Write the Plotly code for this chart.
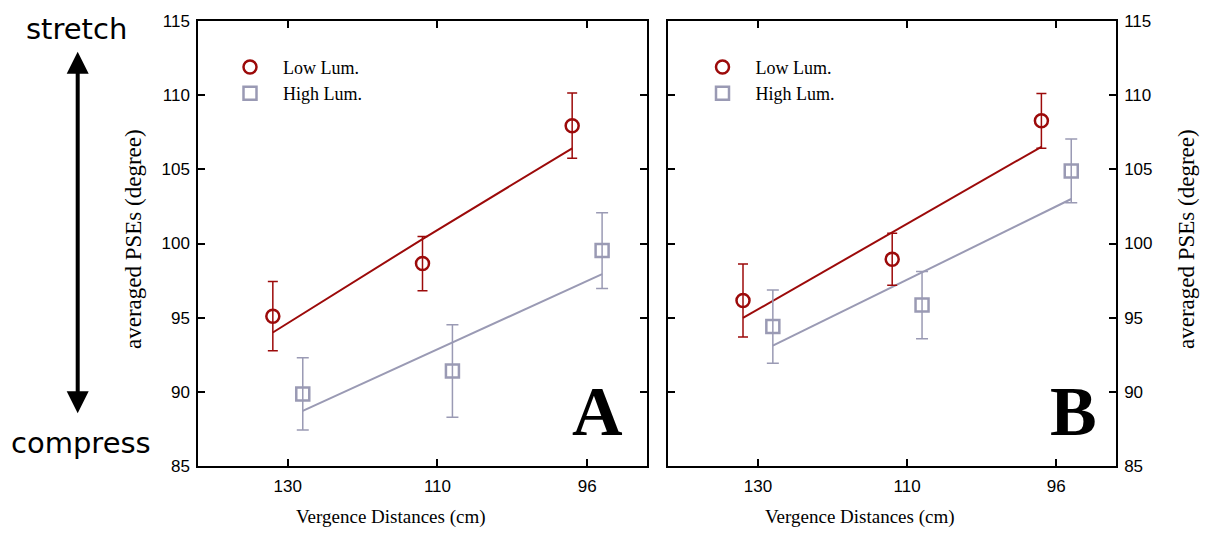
import plotly.graph_objects as go

# ---------------- data ----------------
distances = ["130", "110", "96"]

a_low = [95.1, 98.65, 107.94]
a_low_err = [2.33, 1.83, 2.2]
a_high = [89.86, 91.4, 99.52]
a_high_err = [2.43, 3.12, 2.56]
a_low_fit = [94.0, 100.3, 106.42]
a_high_fit = [88.72, 93.33, 97.94]

b_low = [96.16, 98.94, 108.27]
b_low_err = [2.46, 1.75, 1.85]
b_high = [94.4, 95.85, 104.89]
b_high_err = [2.47, 2.27, 2.15]
b_low_fit = [94.98, 100.75, 106.52]
b_high_fit = [93.11, 98.08, 103.0]

y_ticks = [85, 90, 95, 100, 105, 110, 115]

# ---------------- style ----------------
RED = "#9c0a0a"
GRAY = "#9a9ab4"
SERIF = "Liberation Serif, Times New Roman, serif"
SANS = "Liberation Sans, Arial, sans-serif"

W, H = 1206, 540
ML, MR, MT, MB = 198, 90, 17, 74
PW = W - ML - MR
PH = H - MT - MB


def px(xp):
    return (xp - ML) / PW


def py(yp):
    return (H - MB - yp) / PH


idx = list(range(len(distances)))
off = 0.1
x_low = [i - off for i in idx]
x_high = [i + off for i in idx]

fig = go.Figure()


def add_panel(xa, ya, low, low_err, high, high_err, low_fit, high_fit, legend):
    fig.add_trace(go.Scatter(x=x_low, y=low_fit, mode="lines", line=dict(color=RED, width=2),
                             xaxis=xa, yaxis=ya, showlegend=False, hoverinfo="skip"))
    fig.add_trace(go.Scatter(x=x_high, y=high_fit, mode="lines", line=dict(color=GRAY, width=2),
                             xaxis=xa, yaxis=ya, showlegend=False, hoverinfo="skip"))
    fig.add_trace(go.Scatter(x=x_low, y=low, mode="markers", name="Low Lum.",
                             marker=dict(symbol="circle-open", size=13, color=RED, line=dict(width=2.5, color=RED)),
                             error_y=dict(type="data", array=low_err, color=RED, thickness=1.5, width=5),
                             xaxis=xa, yaxis=ya, legend=legend))
    fig.add_trace(go.Scatter(x=x_high, y=high, mode="markers", name="High Lum.",
                             marker=dict(symbol="square-open", size=13, color=GRAY, line=dict(width=2.5, color=GRAY)),
                             error_y=dict(type="data", array=high_err, color=GRAY, thickness=1.5, width=6),
                             xaxis=xa, yaxis=ya, legend=legend))


add_panel("x", "y", a_low, a_low_err, a_high, a_high_err, a_low_fit, a_high_fit, "legend")
add_panel("x2", "y2", b_low, b_low_err, b_high, b_high_err, b_low_fit, b_high_fit, "legend2")

xcommon = dict(range=[-0.6, 2.4], tickmode="array", tickvals=idx, ticktext=distances,
               ticks="inside", ticklen=7, tickwidth=1.5, tickcolor="black",
               showline=True, linecolor="black", linewidth=1.5, mirror="ticks",
               showgrid=False, zeroline=False, ticklabelstandoff=4,
               tickfont=dict(family=SANS, size=17, color="black"))
ycommon = dict(range=[85, 115], tickmode="array", tickvals=y_ticks,
               ticks="inside", ticklen=7, tickwidth=1.5, tickcolor="black",
               showline=True, linecolor="black", linewidth=1.5, mirror="ticks",
               showgrid=False, zeroline=False, ticklabelstandoff=3,
               tickfont=dict(family=SANS, size=17, color="black"))

legend_common = dict(xanchor="left", yanchor="top", bgcolor="rgba(0,0,0,0)",
                     font=dict(family=SERIF, size=18, color="black"), itemwidth=56, tracegroupgap=0)

fig.update_layout(
    width=W, height=H,
    margin=dict(l=ML, r=MR, t=MT, b=MB),
    paper_bgcolor="white", plot_bgcolor="white",
    xaxis=dict(domain=[0, px(647)], anchor="y", **xcommon),
    yaxis=dict(domain=[0, 1], anchor="x", side="left", **ycommon),
    xaxis2=dict(domain=[px(668.4), 1], anchor="y2", **xcommon),
    yaxis2=dict(domain=[0, 1], anchor="x2", side="right", **ycommon),
    legend=dict(x=px(217), y=py(45), **legend_common),
    legend2=dict(x=px(689.5), y=py(45), **legend_common),
    showlegend=True,
)

annotations = [
    dict(text="averaged PSEs (degree)", x=px(133), y=py(237), textangle=-90,
         font=dict(family=SERIF, size=23, color="black")),
    dict(text="averaged PSEs (degree)", x=px(1186), y=py(237), textangle=-90,
         font=dict(family=SERIF, size=23, color="black")),
    dict(text="Vergence Distances (cm)", x=px(391), y=py(517),
         font=dict(family=SERIF, size=19, color="black")),
    dict(text="Vergence Distances (cm)", x=px(860), y=py(517),
         font=dict(family=SERIF, size=19, color="black")),
    dict(text="<b>A</b>", x=px(597.7), y=py(411),
         font=dict(family=SERIF, size=70, color="black")),
    dict(text="<b>B</b>", x=px(1073), y=py(411),
         font=dict(family=SERIF, size=70, color="black")),
    dict(text="stretch", x=px(76.5), y=py(25),
         font=dict(family="DejaVu Sans", size=29, color="black")),
    dict(text="compress", x=px(81), y=py(443),
         font=dict(family="DejaVu Sans", size=29, color="black")),
    dict(text="", x=px(77.7), y=py(48), ax=0, ay=363, showarrow=True,
         arrowside="end+start", arrowhead=2, startarrowhead=2, arrowsize=1.1, startarrowsize=1.1,
         arrowwidth=4, arrowcolor="black"),
]
for a in annotations:
    a.setdefault("showarrow", False)
    a["xref"] = "paper"
    a["yref"] = "paper"
    a.setdefault("xanchor", "center")
    a.setdefault("yanchor", "middle")
fig.update_layout(annotations=annotations)

fig.write_html("out.html", config={"displayModeBar": False},
               post_script="document.body.style.margin='0';")
